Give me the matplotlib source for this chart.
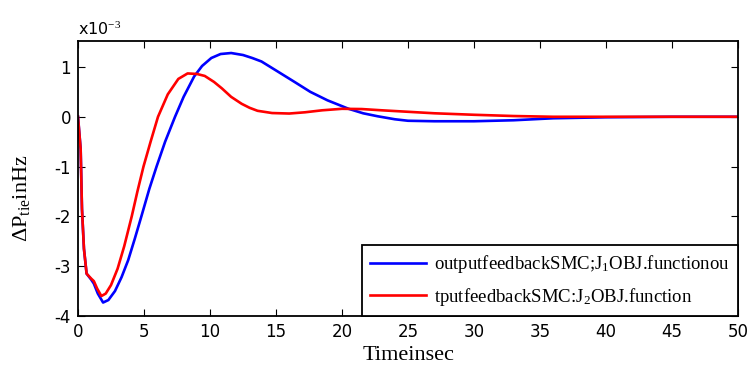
import matplotlib
matplotlib.use('Agg')
import matplotlib.pyplot as plt

plt.rcParams['mathtext.fontset'] = 'custom'
plt.rcParams['mathtext.rm'] = 'Liberation Serif'
plt.rcParams['mathtext.it'] = 'Liberation Serif'
plt.rcParams['axes.unicode_minus'] = False

# datos (escala x10^-3)
t_azul = [0, 0.2, 0.3, 0.45, 0.65, 1.0, 1.2, 1.5, 1.9, 2.3, 2.8, 3.3, 3.8, 4.3, 4.8, 5.4,
          5.95, 6.6, 7.35, 8.0, 8.8, 9.4, 10.1, 10.8, 11.6, 12.5, 13.2, 13.9, 15, 16.4,
          17.6, 18.9, 20.5, 21.6, 22.7, 24, 25, 27, 30, 33, 36, 40, 45, 50]
v_azul = [0, -0.65, -1.85, -2.65, -3.15, -3.27, -3.35, -3.55, -3.73, -3.68, -3.5, -3.22,
          -2.88, -2.45, -2.0, -1.45, -1.0, -0.5, 0.0, 0.4, 0.81, 1.02, 1.18, 1.26, 1.28,
          1.24, 1.18, 1.11, 0.93, 0.70, 0.5, 0.33, 0.16, 0.07, 0.01, -0.05, -0.08, -0.09,
          -0.09, -0.07, -0.03, -0.01, 0, 0]

t_rojo = [0, 0.2, 0.3, 0.45, 0.65, 1.0, 1.2, 1.45, 1.77, 2.1, 2.5, 3.0, 3.5, 4.07, 4.5,
          4.96, 5.5, 6.06, 6.8, 7.6, 8.3, 9.0, 9.6, 10.3, 10.9, 11.6, 12.4, 13.0, 13.6,
          14.7, 16, 17.2, 18.5, 20, 21.5, 23, 25, 27, 30, 33, 36, 40, 50]
v_rojo = [0, -0.65, -1.85, -2.65, -3.15, -3.25, -3.3, -3.45, -3.6, -3.55, -3.38, -3.05,
          -2.6, -2.0, -1.5, -1.0, -0.5, 0.0, 0.45, 0.76, 0.87, 0.86, 0.82, 0.7, 0.57, 0.4,
          0.26, 0.18, 0.12, 0.075, 0.065, 0.09, 0.13, 0.16, 0.155, 0.13, 0.1, 0.07, 0.04,
          0.015, 0, 0, 0]

etiqueta_azul = r'outputfeedbackSMC;J$_1$OBJ.functionou'
etiqueta_rojo = r'tputfeedbackSMC:J$_2$OBJ.function'

fig = plt.figure(figsize=(7.53, 3.70), dpi=100)
ax = fig.add_axes([0.1036, 0.146, 0.8765, 0.743])

ax.plot(t_azul, v_azul, color='#0000ff', lw=1.9, label=etiqueta_azul)
ax.plot(t_rojo, v_rojo, color='#ff0000', lw=1.9, label=etiqueta_rojo)

ax.set_xlim(0, 50)
ax.set_ylim(-4, 1.52)
ax.set_xticks(range(0, 51, 5))
ax.set_yticks(range(-4, 2))
ax.tick_params(direction='in', top=True, right=True, labelsize=12, length=5, pad=5)
for lado in ax.spines.values():
    lado.set_linewidth(1.3)

ax.set_xlabel('Timeinsec', family='Liberation Serif', fontsize=16, labelpad=4)
ax.set_ylabel(r'$\Delta$P$_{\mathrm{tie}}$inHz', family='Liberation Serif', fontsize=16)
ax.yaxis.set_label_coords(-0.07, 0.43)
ax.text(0, 1.01, r'x10$^{-3}$', transform=ax.transAxes, fontsize=11.5, va='bottom', ha='left')

leg = ax.legend(loc='lower right', bbox_to_anchor=(1.0, 0.0), borderaxespad=0,
                prop={'family': 'Liberation Serif', 'size': 13.5}, fancybox=False,
                edgecolor='black', framealpha=1, handlelength=3.0, handletextpad=0.4,
                labelspacing=0.55, borderpad=0.45)
leg.get_frame().set_linewidth(1.3)

fig.savefig('out.png', dpi=100)
